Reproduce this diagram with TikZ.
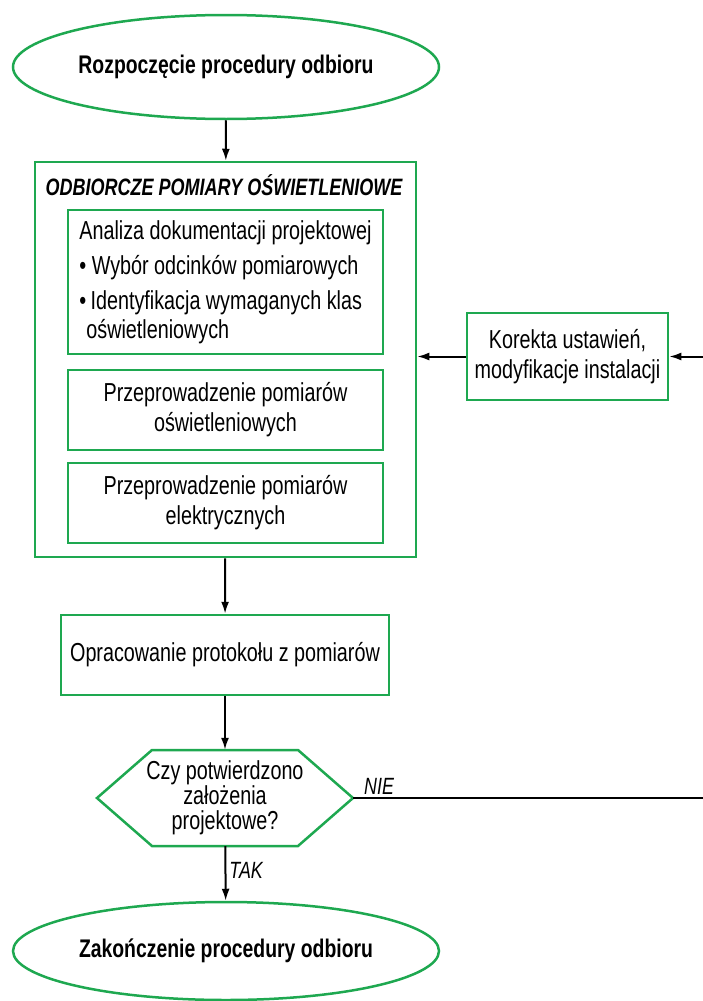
\documentclass[tikz,border=0pt]{standalone}
\usepackage{fontspec}
\setmainfont{Liberation Sans}[FakeStretch=0.76]
\usetikzlibrary{arrows.meta}
\usetikzlibrary{shapes.geometric}
\definecolor{zielony}{RGB}{30,168,80}
\newcommand\tekst{\fontsize{26}{30}\selectfont}
\newcommand\tekstb{\fontsize{25.5}{28}\selectfont\bfseries}
\tikzstyle{ramka}=[draw=zielony,line width=2.5pt]
\tikzstyle{blok}=[ramka,rectangle,inner sep=0pt,align=center,font=\tekst]
\tikzstyle{owal}=[ramka,ellipse,inner sep=0pt,minimum width=426pt,font=\tekstb]
\tikzstyle{strz}=[line width=2pt,-{Latex[length=12pt,width=8pt]}]
\tikzstyle{etyk}=[font=\fontsize{23.5}{26}\selectfont\itshape,inner sep=3pt]

\begin{document}
\begin{tikzpicture}[x=1pt,y=-1pt]
	\useasboundingbox (0,0) rectangle (702,1001);
	\node[owal,minimum height=104pt] (start) at (226,67) {Rozpoczęcie procedury odbioru};
	\node[blok,minimum width=381pt,minimum height=395pt] (pomiary) at (225.5,359.5) {};
	\node[font=\fontsize{23.7}{26}\selectfont\bfseries\itshape,inner sep=0pt] (tytul) at (224,185) {ODBIORCZE POMIARY OŚWIETLENIOWE};
	\node[blok,minimum width=315pt,minimum height=144pt,align=left,font=\fontsize{26}{29}\selectfont] (analiza) at (225.5,282)
		{Analiza dokumentacji projektowej\\[6pt]
		 \textbullet\ Wybór odcinków pomiarowych\\[6pt]
		 \textbullet\,Identyfikacja wymaganych klas\\
		 \hspace*{7pt}oświetleniowych};
	\node[blok,minimum width=315pt,minimum height=80pt] (pomOsw) at (225.5,410) {Przeprowadzenie pomiarów\\oświetleniowych};
	\node[blok,minimum width=315pt,minimum height=80pt] (pomElek) at (225.5,503) {Przeprowadzenie pomiarów\\elektrycznych};
	\node[blok,minimum width=328pt,minimum height=80pt] (protokol) at (225,655) {Opracowanie protokołu z pomiarów};
	\node[inner sep=0pt,minimum height=96pt,align=center,font=\fontsize{26}{25}\selectfont] (decyzja) at (225,798)
		{Czy potwierdzono\\założenia\\projektowe?};
	\draw[ramka] ([shift={(-73,-48)}]decyzja.center) -- ([shift={(73,-48)}]decyzja.center)
		-- ([xshift=128pt]decyzja.center) coordinate (decR)
		-- ([shift={(73,48)}]decyzja.center) -- ([shift={(-73,48)}]decyzja.center)
		-- ([xshift=-128pt]decyzja.center) -- cycle;
	\node[owal,minimum height=98pt] (koniec) at (226,951) {Zakończenie procedury odbioru};
	\node[blok,minimum width=201pt,minimum height=87pt] (korekta) at (567.5,356.5) {Korekta ustawień,\\modyfikacje instalacji};
	\coordinate (zakret) at (712,798);

	\draw[strz] (start) -- (pomiary);
	\draw[strz] (pomiary) -- (protokol);
	\draw[strz] (protokol) -- (decyzja);
	\draw[strz] (decyzja) --node[etyk,pos=0.45,right]{TAK} (koniec);
	\draw[strz] (decR) --node[etyk,pos=0.02,above right]{NIE} (zakret) |- (korekta);
	\draw[strz] (korekta) -- (korekta.west -| pomiary.east);
\end{tikzpicture}
\end{document}
